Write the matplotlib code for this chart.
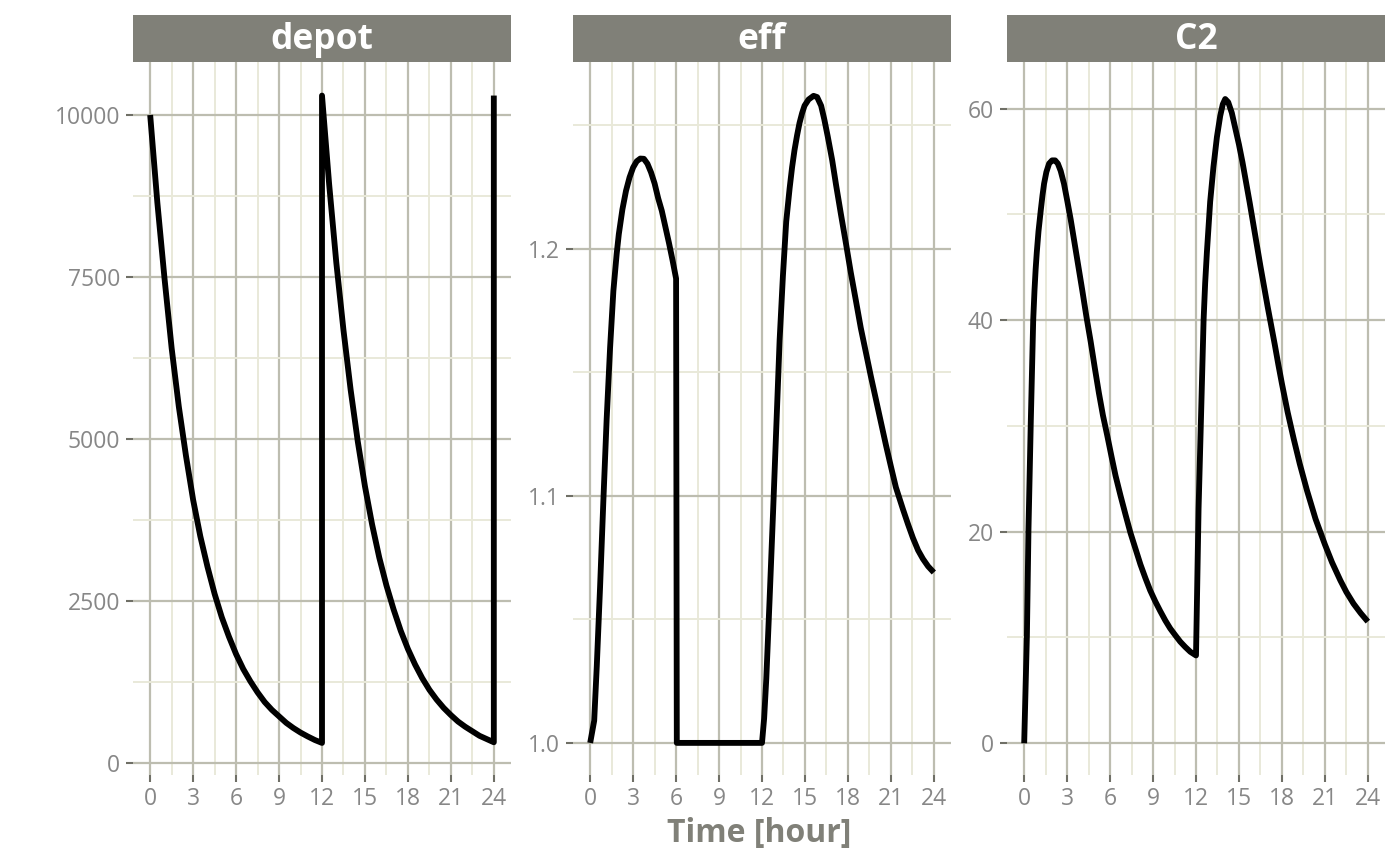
import matplotlib
matplotlib.use("Agg")
import matplotlib.pyplot as plt
from matplotlib.ticker import FixedLocator

plt.rcParams['font.family'] = ['Open Sans', 'DejaVu Sans']

# ---------------- data ----------------
depot_time = [0, 0.5, 1, 1.5, 2, 2.5, 3, 3.5, 4, 4.5, 5, 5.5, 6, 6.5, 7, 7.5, 8, 8.5, 9, 9.5, 10, 10.5, 11, 11.5, 12,
              12, 12.5, 13, 13.5, 14, 14.5, 15, 15.5, 16, 16.5, 17, 17.5, 18, 18.5, 19, 19.5, 20, 20.5, 21, 21.5,
              22, 22.5, 23, 23.5, 24,
              24]
depot_value = [10000, 8650, 7480, 6400, 5500, 4740, 4060, 3500, 3030, 2610, 2250, 1950, 1680, 1450, 1260, 1090, 940,
               820, 720, 620, 540, 470, 410, 355, 310,
               10300, 8930, 7720, 6680, 5760, 4960, 4270, 3680, 3170, 2740, 2370, 2040, 1760, 1520, 1310, 1130, 980,
               850, 740, 640, 560, 490, 420, 370, 320,
               10300]

eff_time = [0, 0.28, 0.46, 0.69, 0.92, 1.15, 1.39, 1.62, 1.85, 2.0, 2.25, 2.5, 2.75, 3.0, 3.25, 3.5, 3.75, 4.0,
            4.25, 4.5, 4.75, 5.0, 5.25, 5.5, 5.75, 6.0,
            6.05, 12.0,
            12.15, 12.30, 12.53, 12.77, 13.0, 13.23, 13.46, 13.69, 13.93, 14.1, 14.27, 14.45, 14.62, 14.8, 14.97,
            15.25, 15.6, 15.85, 16.13, 16.35, 16.59, 16.9, 17.17, 17.5, 17.87, 18.2, 18.56, 18.9, 19.26, 19.6,
            19.96, 20.3, 20.66, 21.0, 21.35, 21.85, 22.2, 22.54, 22.9, 23.24, 23.6, 24.0]
eff_value = [1.000, 1.009, 1.031, 1.063, 1.098, 1.131, 1.160, 1.183, 1.198, 1.206, 1.216, 1.2235, 1.229, 1.233,
             1.2355, 1.2366, 1.2365, 1.2345, 1.2310, 1.2265, 1.2205, 1.2155, 1.209, 1.2025, 1.1955, 1.188,
             1.000, 1.000,
             1.010, 1.026, 1.058, 1.093, 1.128, 1.163, 1.189, 1.211, 1.2246, 1.233, 1.240, 1.246, 1.251, 1.255,
             1.258, 1.2605, 1.262, 1.2615, 1.258, 1.2525, 1.2456, 1.236, 1.226, 1.2145, 1.202, 1.1905, 1.179, 1.168,
             1.158, 1.1485, 1.139, 1.130, 1.1205, 1.112, 1.1035, 1.0945, 1.0885, 1.083, 1.078, 1.0745, 1.0715, 1.069]

c2_time = [0, 0.19, 0.30, 0.46, 0.63, 0.72, 0.8, 0.88, 1.0, 1.16, 1.28, 1.39, 1.55, 1.74, 1.95, 2.16, 2.35, 2.55,
           2.78, 3.02, 3.25, 3.48, 3.77, 4.06, 4.35, 4.64, 4.93, 5.22, 5.5, 5.80, 6.1, 6.38, 6.73, 7.08, 7.42,
           7.77, 8.12, 8.47, 8.8, 9.16, 9.5, 9.86, 10.2, 10.56, 10.9, 11.25, 11.6, 12.0,
           12.18, 12.34, 12.53, 12.64, 12.76, 12.99, 13.22, 13.46, 13.69, 13.87, 14.04, 14.25, 14.5, 14.75, 15.0,
           15.25, 15.5, 15.75, 16.0, 16.25, 16.5, 16.75, 17.0, 17.25, 17.5, 17.75, 18.0, 18.4, 18.82, 19.25,
           19.75, 20.35, 21.0, 21.5, 22.08, 22.5, 23.0, 23.5, 24.0]
c2_value = [0, 10.2, 20.2, 30.3, 40.0, 42.8, 44.8, 46.4, 48.4, 50.4, 51.8, 52.9, 54.0, 54.8, 55.1, 55.1, 54.8, 54.1,
            52.9, 51.2, 49.5, 47.6, 45.2, 42.8, 40.3, 38.0, 35.5, 33.1, 31.0, 29.1, 27.1, 25.3, 23.4, 21.6, 19.9,
            18.4, 16.9, 15.6, 14.45, 13.4, 12.5, 11.6, 10.85, 10.2, 9.6, 9.1, 8.65, 8.3,
            22.2, 30.3, 40.0, 43.5, 46.4, 51.2, 54.5, 57.3, 59.3, 60.4, 60.9, 60.6, 59.6, 58.1, 56.6,
            54.9, 53.0, 51.1, 49.1, 47.1, 45.1, 43.2, 41.3, 39.5, 37.7, 35.8, 34.0, 31.3, 28.8, 26.4,
            23.9, 21.2, 18.8, 17.1, 15.4, 14.3, 13.2, 12.3, 11.5]

panel_names = ["depot", "eff", "C2"]
x_ticks = [0, 3, 6, 9, 12, 15, 18, 21, 24]
y_ticks = {
    "depot": [0, 2500, 5000, 7500, 10000],
    "eff": [1.0, 1.1, 1.2],
    "C2": [0, 20, 40, 60],
}
y_tick_labels = {
    "depot": ["0", "2500", "5000", "7500", "10000"],
    "eff": ["1.0", "1.1", "1.2"],
    "C2": ["0", "20", "40", "60"],
}
y_minor = {
    "depot": [1250, 3750, 6250, 8750],
    "eff": [1.05, 1.15, 1.25],
    "C2": [10, 30, 50],
}
x_label = "Time [hour]"

series = {
    "depot": (depot_time, depot_value),
    "eff": (eff_time, eff_value),
    "C2": (c2_time, c2_value),
}

# ---------------- style ----------------
W, H = 1400, 865
fig = plt.figure(figsize=(W / 100, H / 100), dpi=100)
fig.patch.set_facecolor("white")

major_col = "#bdbdb0"
minor_col = "#e9e9d9"
strip_col = "#808078"
text_col = "#878787"
tick_col = "#6f6f66"

panel_left_px = [133, 573, 1007]
panel_w_px = 378
panel_top_px = 62
panel_bot_px = 775
strip_top_px = 15

ylims = {
    "depot": (-185, 10818),
    "eff": (0.987, 1.2757),
    "C2": (-3.0, 64.4),
}

for name, lpx in zip(panel_names, panel_left_px):
    ax = fig.add_axes([lpx / W, 1 - panel_bot_px / H, panel_w_px / W, (panel_bot_px - panel_top_px) / H])
    ax.set_facecolor("none")
    t, v = series[name]
    ax.plot(t, v, color="black", lw=4.2, solid_joinstyle="round", solid_capstyle="butt", zorder=3)
    ax.set_xlim(-1.2, 25.2)
    ax.set_ylim(*ylims[name])
    ax.xaxis.set_major_locator(FixedLocator(x_ticks))
    ax.xaxis.set_minor_locator(FixedLocator([x + 1.5 for x in x_ticks[:-1]]))
    ax.yaxis.set_major_locator(FixedLocator(y_ticks[name]))
    ax.yaxis.set_minor_locator(FixedLocator(y_minor[name]))
    ax.set_xticklabels([str(x) for x in x_ticks])
    ax.set_yticklabels(y_tick_labels[name])
    ax.grid(which="major", color=major_col, lw=1.6, zorder=0)
    ax.grid(which="minor", color=minor_col, lw=1.4, zorder=0)
    ax.set_axisbelow(True)
    for s in ax.spines.values():
        s.set_visible(False)
    ax.tick_params(which="major", direction="out", length=5.3, width=1.5, color=tick_col,
                   labelcolor=text_col, labelsize=16.5, pad=3)
    ax.tick_params(axis="y", which="major", pad=4)
    ax.tick_params(which="minor", length=0)

    # strip
    sax = fig.add_axes([lpx / W, 1 - panel_top_px / H, panel_w_px / W, (panel_top_px - strip_top_px) / H])
    sax.set_facecolor(strip_col)
    sax.set_xticks([])
    sax.set_yticks([])
    for s in sax.spines.values():
        s.set_visible(False)
    sax.text(0.5, 0.47, name, ha="center", va="center", color="white",
             fontsize=25.5, fontweight="bold", transform=sax.transAxes)

fig.text(759 / W, 1 - 833 / H, x_label, ha="center", va="center",
         color=strip_col, fontsize=23, fontweight="bold")

fig.savefig("out.png", dpi=100)
